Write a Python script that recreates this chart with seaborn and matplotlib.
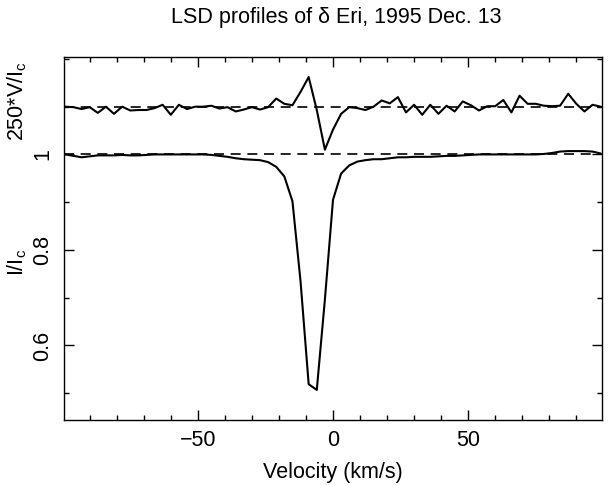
import matplotlib
matplotlib.use("Agg")
import matplotlib.pyplot as plt
import seaborn as sns
import pandas as pd
from matplotlib.ticker import MultipleLocator

# ---- data ----
velocity = [-99, -96, -93, -90, -87, -84, -81, -78, -75, -72, -69, -66, -63, -60, -57,
            -54, -51, -48, -45, -42, -39, -36, -33, -30, -27, -24, -21, -18, -15, -12,
            -9, -6, -3, 0, 3, 6, 9, 12, 15, 18, 21, 24, 27, 30, 33, 36, 39, 42, 45, 48,
            51, 54, 57, 60, 63, 66, 69, 72, 75, 78, 81, 84, 87, 90, 93, 96, 99]

stokes_i = [1.000, 0.997, 0.994, 0.996, 0.998, 0.998, 0.998, 0.999, 0.998, 0.998,
            0.999, 1.000, 1.000, 1.000, 1.000, 1.000, 1.000, 1.000, 0.999, 0.997,
            0.995, 0.992, 0.990, 0.989, 0.988, 0.984, 0.974, 0.954, 0.902, 0.734,
            0.519, 0.507, 0.696, 0.905, 0.960, 0.977, 0.985, 0.988, 0.990, 0.990,
            0.992, 0.994, 0.994, 0.995, 0.995, 0.995, 0.996, 0.997, 0.997, 0.998,
            0.999, 1.000, 1.000, 1.000, 1.000, 1.000, 1.000, 1.000, 1.000, 1.001,
            1.003, 1.006, 1.007, 1.007, 1.007, 1.006, 1.002]

# 250 * V / Ic
stokes_v250 = [0.000, -0.001, -0.005, -0.001, -0.013, 0.000, -0.015, 0.000, -0.008, -0.007,
               -0.007, -0.003, 0.004, -0.017, 0.004, -0.005, 0.000, 0.000, 0.002, -0.004,
               -0.001, -0.010, -0.006, -0.001, -0.006, -0.001, 0.017, 0.006, 0.003, 0.031,
               0.062, -0.007, -0.090, -0.048, -0.015, -0.001, -0.003, -0.007, 0.000, 0.013,
               0.007, 0.020, -0.012, 0.004, -0.017, 0.004, -0.015, 0.002, -0.010, 0.011,
               0.003, -0.008, 0.001, 0.001, 0.014, -0.012, 0.023, 0.006, 0.006, 0.002,
               0.001, 0.002, 0.027, 0.006, -0.010, 0.004, 0.000]

continuum = 1.0
v_offset = 1.1

df = pd.DataFrame({"velocity": velocity, "I": stokes_i, "V250": stokes_v250})
df["V_plot"] = df["V250"] + v_offset

# ---- style ----
sns.set_theme(style="ticks")
plt.rcParams["font.family"] = ["Liberation Sans", "DejaVu Sans"]
plt.rcParams["mathtext.fontset"] = "custom"
plt.rcParams["mathtext.rm"] = "Liberation Sans"
plt.rcParams["axes.edgecolor"] = "black"
plt.rcParams["axes.linewidth"] = 1.0

FS = 15.5

fig = plt.figure(figsize=(6.12, 4.86), dpi=100)
fig.patch.set_facecolor("white")
ax = fig.add_axes([64 / 612, 1 - 420 / 486, (602 - 64) / 612, (420 - 57) / 486])
ax.set_facecolor("white")

dash = (0, (6.0, 4.0))
ax.axhline(continuum, color="black", lw=1.2, ls=dash, zorder=1)
ax.axhline(v_offset, color="black", lw=1.2, ls=dash, zorder=1)

sns.lineplot(data=df, x="velocity", y="I", ax=ax, color="black", lw=1.5,
             estimator=None, sort=False, zorder=2)
sns.lineplot(data=df, x="velocity", y="V_plot", ax=ax, color="black", lw=1.5,
             estimator=None, sort=False, zorder=2)

ax.set_xlim(-99.5, 99.5)
ax.set_ylim(0.444, 1.204)

ax.xaxis.set_major_locator(MultipleLocator(50))
ax.xaxis.set_minor_locator(MultipleLocator(10))
ax.yaxis.set_major_locator(MultipleLocator(0.2))
ax.yaxis.set_minor_locator(MultipleLocator(0.1))
ax.set_xticks([-50, 0, 50])
ax.set_xticklabels(["\u221250", "0", "50"])
ax.set_yticks([0.6, 0.8, 1.0])
ax.set_yticklabels(["0.6", "0.8", "1"])

ax.tick_params(which="both", direction="in", top=True, right=True, color="black",
               labelsize=FS, labelcolor="black")
ax.tick_params(which="major", length=7, width=1.0)
ax.tick_params(which="minor", length=3.5, width=1.0)
ax.tick_params(axis="x", pad=7)
ax.tick_params(axis="y", pad=8)
for lab in ax.get_yticklabels():
    lab.set_rotation(90)
    lab.set_va("center")
    lab.set_ha("right")

ax.set_xlabel("Velocity (km/s)", fontsize=FS, labelpad=8, color="black")
ax.set_ylabel("")

for s in ax.spines.values():
    s.set_visible(True)
    s.set_color("black")

fig.text(336 / 612, 1 - 17 / 486, "LSD profiles of \u03b4 Eri, 1995 Dec. 13",
         ha="center", va="center", fontsize=FS, color="black")
fig.text(17 / 612, 1 - 262 / 486, r"I/I$_\mathregular{c}$", rotation=90,
         ha="center", va="center", fontsize=FS, color="black")
fig.text(17 / 612, 1 - 101 / 486, r"250*V/I$_\mathregular{c}$", rotation=90,
         ha="center", va="center", fontsize=FS, color="black")

fig.savefig("out.png", dpi=100, facecolor="white")
